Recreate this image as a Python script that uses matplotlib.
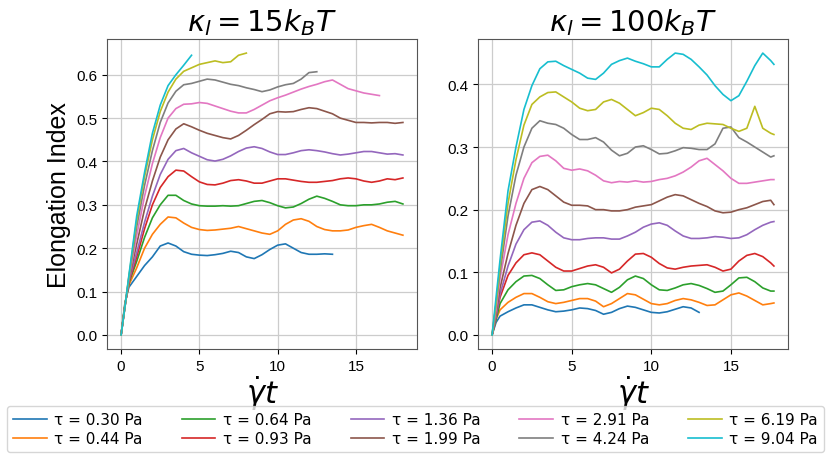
import numpy as np
import matplotlib
matplotlib.use("Agg")
import matplotlib.pyplot as plt

# ---------------- data ----------------
labels = ["τ = 0.30 Pa", "τ = 0.44 Pa", "τ = 0.64 Pa", "τ = 0.93 Pa", "τ = 1.36 Pa",
          "τ = 1.99 Pa", "τ = 2.91 Pa", "τ = 4.24 Pa", "τ = 6.19 Pa", "τ = 9.04 Pa"]
titles = [r"$\kappa_l = 15k_BT$", r"$\kappa_l = 100k_BT$"]

# time grids (γ̇t)
t_left = [0, 0.25] + [0.5 * k for k in range(1, 37)]            # 0 ... 18
t_right = [0, 0.25] + [0.5 * k for k in range(1, 36)] + [17.7]  # 0 ... 17.7

# kappa_l = 15 kBT
left_030 = [0, 0.075, 0.11, 0.135, 0.16, 0.18, 0.205, 0.212, 0.205, 0.192, 0.186, 0.184, 0.183,
            0.185, 0.188, 0.193, 0.19, 0.18, 0.176, 0.185, 0.197, 0.207, 0.21, 0.2, 0.19, 0.186,
            0.186, 0.187, 0.186]
left_044 = [0, 0.072, 0.115, 0.155, 0.2, 0.232, 0.255, 0.272, 0.27, 0.258, 0.248, 0.243, 0.241,
            0.242, 0.244, 0.246, 0.25, 0.245, 0.24, 0.235, 0.232, 0.24, 0.255, 0.265, 0.268, 0.262,
            0.25, 0.243, 0.24, 0.24, 0.242, 0.248, 0.252, 0.255, 0.248, 0.24, 0.235, 0.23]
left_064 = [0, 0.07, 0.12, 0.17, 0.225, 0.27, 0.3, 0.322, 0.322, 0.31, 0.302, 0.298, 0.297,
            0.297, 0.298, 0.297, 0.298, 0.303, 0.308, 0.31, 0.305, 0.298, 0.293, 0.295, 0.303,
            0.313, 0.32, 0.315, 0.308, 0.3, 0.298, 0.298, 0.3, 0.3, 0.302, 0.306, 0.308, 0.302]
left_093 = [0, 0.068, 0.122, 0.18, 0.245, 0.3, 0.34, 0.365, 0.38, 0.378, 0.365, 0.353, 0.347,
            0.346, 0.35, 0.356, 0.358, 0.355, 0.35, 0.35, 0.355, 0.36, 0.36, 0.357, 0.354, 0.352,
            0.352, 0.354, 0.356, 0.36, 0.362, 0.36, 0.355, 0.352, 0.355, 0.36, 0.358, 0.362]
left_136 = [0, 0.067, 0.125, 0.19, 0.26, 0.32, 0.37, 0.405, 0.425, 0.43, 0.42, 0.412, 0.404,
            0.401, 0.405, 0.413, 0.423, 0.431, 0.434, 0.43, 0.422, 0.416, 0.416, 0.42, 0.425,
            0.427, 0.425, 0.422, 0.418, 0.415, 0.417, 0.42, 0.423, 0.423, 0.42, 0.417, 0.418, 0.415]
left_199 = [0, 0.066, 0.128, 0.21, 0.29, 0.355, 0.41, 0.45, 0.475, 0.487, 0.48, 0.472, 0.465,
            0.46, 0.455, 0.452, 0.46, 0.472, 0.485, 0.497, 0.51, 0.515, 0.514, 0.515, 0.52,
            0.524, 0.522, 0.516, 0.51, 0.5, 0.495, 0.49, 0.49, 0.489, 0.49, 0.49, 0.488, 0.49]
left_291 = [0, 0.066, 0.13, 0.23, 0.32, 0.395, 0.455, 0.5, 0.522, 0.532, 0.533, 0.536, 0.534,
            0.528, 0.522, 0.516, 0.512, 0.512, 0.52, 0.53, 0.54, 0.547, 0.553, 0.56, 0.567,
            0.573, 0.578, 0.584, 0.588, 0.578, 0.568, 0.563, 0.558, 0.555, 0.552]
left_424 = [0, 0.066, 0.133, 0.25, 0.345, 0.425, 0.49, 0.535, 0.562, 0.577, 0.58, 0.585, 0.59,
            0.588, 0.583, 0.578, 0.575, 0.57, 0.566, 0.561, 0.565, 0.572, 0.577, 0.58, 0.59,
            0.605, 0.607]
left_619 = [0, 0.066, 0.135, 0.265, 0.365, 0.45, 0.515, 0.56, 0.59, 0.608, 0.616, 0.624, 0.628,
            0.632, 0.628, 0.63, 0.645, 0.65]
left_904 = [0, 0.066, 0.138, 0.275, 0.375, 0.465, 0.53, 0.575, 0.6, 0.622, 0.645]

# kappa_l = 100 kBT
right_030 = [0, 0.02, 0.03, 0.037, 0.043, 0.048, 0.048, 0.044, 0.04, 0.037, 0.038, 0.04, 0.043,
             0.042, 0.039, 0.033, 0.036, 0.042, 0.046, 0.044, 0.04, 0.036, 0.035, 0.037, 0.041,
             0.045, 0.043, 0.036]
right_044 = [0, 0.025, 0.04, 0.052, 0.06, 0.066, 0.066, 0.06, 0.053, 0.05, 0.052, 0.055, 0.058,
             0.058, 0.054, 0.045, 0.05, 0.058, 0.066, 0.064, 0.057, 0.05, 0.048, 0.05, 0.055,
             0.058, 0.056, 0.052, 0.047, 0.048, 0.056, 0.064, 0.067, 0.062, 0.055, 0.048, 0.05, 0.051]
right_064 = [0, 0.025, 0.05, 0.072, 0.085, 0.094, 0.095, 0.09, 0.08, 0.071, 0.072, 0.077, 0.08,
             0.082, 0.08, 0.074, 0.068, 0.076, 0.088, 0.094, 0.09, 0.08, 0.072, 0.071, 0.075,
             0.08, 0.082, 0.079, 0.074, 0.068, 0.07, 0.08, 0.091, 0.092, 0.085, 0.075, 0.07, 0.07]
right_093 = [0, 0.03, 0.06, 0.095, 0.115, 0.128, 0.131, 0.128, 0.118, 0.108, 0.102, 0.102, 0.106,
             0.11, 0.112, 0.108, 0.099, 0.105, 0.118, 0.129, 0.13, 0.124, 0.114, 0.107, 0.105,
             0.108, 0.11, 0.111, 0.112, 0.108, 0.102, 0.105, 0.118, 0.127, 0.13, 0.125, 0.115, 0.11]
right_136 = [0, 0.03, 0.065, 0.11, 0.145, 0.168, 0.18, 0.182, 0.175, 0.164, 0.155, 0.152, 0.152,
             0.154, 0.155, 0.155, 0.153, 0.153, 0.158, 0.164, 0.172, 0.177, 0.179, 0.175, 0.166,
             0.158, 0.154, 0.154, 0.155, 0.157, 0.156, 0.154, 0.155, 0.16, 0.168, 0.175, 0.18, 0.181]
right_199 = [0, 0.035, 0.075, 0.13, 0.175, 0.21, 0.232, 0.237, 0.232, 0.222, 0.212, 0.207, 0.207,
             0.206, 0.2, 0.2, 0.198, 0.198, 0.2, 0.204, 0.206, 0.208, 0.214, 0.22, 0.224, 0.222,
             0.216, 0.21, 0.205, 0.198, 0.195, 0.196, 0.2, 0.203, 0.208, 0.213, 0.215, 0.208]
right_291 = [0, 0.04, 0.09, 0.16, 0.21, 0.25, 0.275, 0.285, 0.287, 0.278, 0.266, 0.263, 0.265,
             0.262, 0.255, 0.246, 0.243, 0.245, 0.244, 0.246, 0.244, 0.245, 0.248, 0.25, 0.254,
             0.26, 0.268, 0.278, 0.282, 0.272, 0.262, 0.25, 0.242, 0.242, 0.244, 0.246, 0.248, 0.248]
right_424 = [0, 0.05, 0.1, 0.19, 0.255, 0.3, 0.33, 0.342, 0.338, 0.336, 0.33, 0.32, 0.312,
             0.312, 0.315, 0.308, 0.295, 0.286, 0.29, 0.3, 0.302, 0.296, 0.289, 0.29, 0.294,
             0.299, 0.298, 0.296, 0.296, 0.305, 0.33, 0.332, 0.315, 0.308, 0.3, 0.292, 0.284, 0.286]
right_619 = [0, 0.05, 0.11, 0.21, 0.28, 0.335, 0.368, 0.38, 0.387, 0.388, 0.38, 0.372, 0.362,
             0.358, 0.36, 0.372, 0.376, 0.37, 0.36, 0.35, 0.355, 0.362, 0.36, 0.35, 0.338, 0.33,
             0.328, 0.335, 0.338, 0.337, 0.336, 0.33, 0.325, 0.33, 0.365, 0.33, 0.322, 0.32]
right_904 = [0, 0.06, 0.12, 0.23, 0.3, 0.36, 0.398, 0.425, 0.436, 0.437, 0.43, 0.424, 0.418,
             0.41, 0.408, 0.418, 0.432, 0.438, 0.442, 0.437, 0.433, 0.428, 0.428, 0.44, 0.45,
             0.448, 0.44, 0.428, 0.415, 0.398, 0.384, 0.374, 0.382, 0.405, 0.43, 0.45, 0.438, 0.432]

left_series = [left_030, left_044, left_064, left_093, left_136,
               left_199, left_291, left_424, left_619, left_904]
right_series = [right_030, right_044, right_064, right_093, right_136,
                right_199, right_291, right_424, right_619, right_904]

# ---------------- style ----------------
plt.rcParams["font.family"] = ["Liberation Sans", "DejaVu Sans"]
colors = plt.rcParams["axes.prop_cycle"].by_key()["color"]

fig = plt.figure(figsize=(8.26, 4.56), dpi=100)
W, H = 826, 456
ax1 = fig.add_axes([107 / W, 1 - 350 / H, 310 / W, 310 / H])
ax2 = fig.add_axes([478 / W, 1 - 350 / H, 310 / W, 310 / H])

for ax, tgrid, series, title in [(ax1, t_left, left_series, titles[0]),
                                 (ax2, t_right, right_series, titles[1])]:
    for i, y in enumerate(series):
        ax.plot(tgrid[:len(y)], y, color=colors[i], lw=1.2, label=labels[i])
    ax.grid(True, color="#cccccc", lw=0.9)
    ax.set_axisbelow(True)
    ax.set_title(title, fontsize=21, pad=6)
    ax.set_xlabel(r"$\dot{\gamma}t$", fontsize=22, labelpad=0)
    ax.tick_params(labelsize=11)
    ax.set_xticks([0, 5, 10, 15])
    for s in ax.spines.values():
        s.set_color("#555555")

ax1.set_yticks([0.0, 0.1, 0.2, 0.3, 0.4, 0.5, 0.6])
ax2.set_yticks([0.0, 0.1, 0.2, 0.3, 0.4])
ax1.set_ylabel("Elongation Index", fontsize=18)

handles, labs = ax1.get_legend_handles_labels()
fig.legend(handles, labs, loc="upper left", bbox_to_anchor=(7 / W, 1 - 407 / H),
           ncol=5, prop={"family": "DejaVu Sans", "size": 11}, handlelength=2.2,
           handletextpad=0.5, columnspacing=2.55, labelspacing=0.25,
           borderaxespad=0, frameon=True)

fig.savefig("out.png", dpi=100)
